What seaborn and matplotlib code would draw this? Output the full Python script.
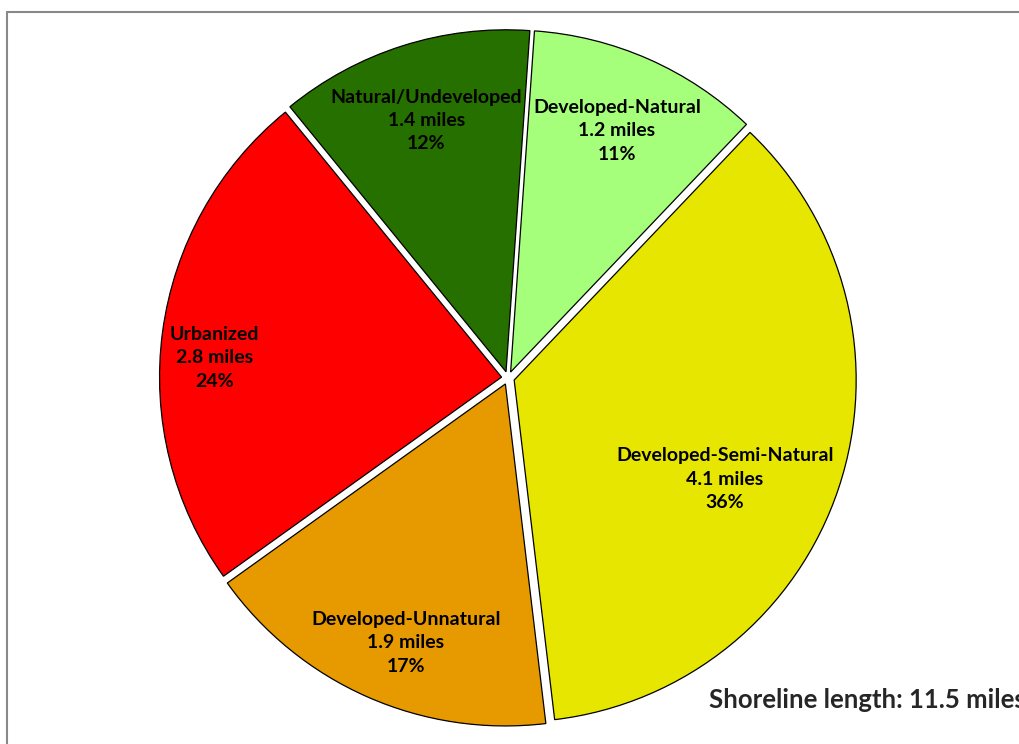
import matplotlib
matplotlib.use("Agg")
import matplotlib.pyplot as plt
import seaborn as sns
import numpy as np

sns.set_style("white")
plt.rcParams["font.family"] = ["Lato", "DejaVu Sans"]

categories = ["Developed-Natural", "Developed-Semi-Natural", "Developed-Unnatural",
              "Urbanized", "Natural/Undeveloped"]
miles = [1.2, 4.1, 1.9, 2.8, 1.4]
percents = [11, 36, 17, 24, 12]
colors = ["#A6FF7A", "#E6E600", "#E69A00", "#FF0000", "#267000"]
label_dist = [0.79, 0.70, 0.83, 0.86, 0.79]
label_shift = [0, -6.6, 2.7, 3.7, 0]

fig = plt.figure(figsize=(10.19, 7.44), dpi=100)
ax = fig.add_axes([0, 0, 1, 1])

cx, cy, r = 508, 366, 342
wedges, _ = ax.pie(percents, colors=colors, startangle=86, counterclock=False,
                   explode=[6.5] * 5, center=(cx, cy), radius=r,
                   wedgeprops=dict(edgecolor="black", linewidth=0.9))

for w, cat, m, p, d, s in zip(wedges, categories, miles, percents, label_dist, label_shift):
    ang = np.deg2rad((w.theta1 + w.theta2) / 2 + s)
    x = cx + d * r * np.cos(ang)
    y = cy + d * r * np.sin(ang)
    ax.text(x, y, f"{cat}\n{m} miles\n{p}%", ha="center", va="center",
            fontsize=14, fontweight="bold", linespacing=1.45, color="black")

ax.set_xlim(0, 1019)
ax.set_ylim(0, 744)
ax.set_aspect("equal")
ax.axis("off")

# the reference crops this note at the right edge
fig.text(709 / 1019, 1 - 708 / 744, "Shoreline length: 11.5 miles", fontsize=18.5,
         fontweight="bold", ha="left", va="baseline")

fig.add_artist(plt.Line2D([7 / 1019, 7 / 1019], [0, 1 - 12 / 744], color="#888888",
                          linewidth=1.5, transform=fig.transFigure))
fig.add_artist(plt.Line2D([7 / 1019, 1.0], [1 - 12 / 744, 1 - 12 / 744], color="#888888",
                          linewidth=1.5, transform=fig.transFigure))

plt.savefig("out.png", dpi=100)
plt.close()
